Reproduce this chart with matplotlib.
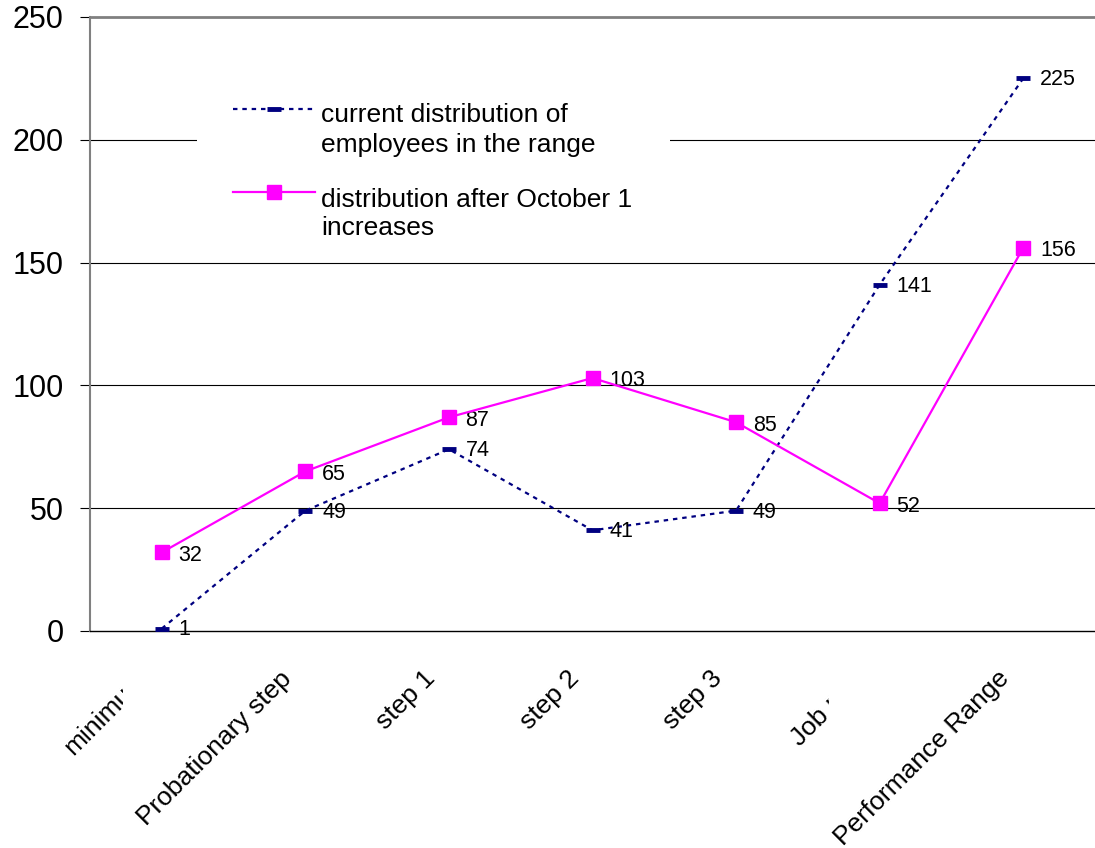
import numpy as np
import matplotlib.pyplot as plt
import matplotlib.transforms as mtransforms
from matplotlib.patches import Rectangle

plt.rcParams['font.family'] = ['Liberation Sans', 'DejaVu Sans']

categories = ["minimum", "Probationary step", "step 1", "step 2", "step 3",
              "Job rate", "Performance Range"]
current = [1, 49, 74, 41, 49, 141, 225]
after_increase = [32, 65, 87, 103, 85, 52, 156]
yticks = [0, 50, 100, 150, 200, 250]
labels = ["current distribution of\nemployees in the range",
          "distribution after October 1\nincreases"]

navy = '#000080'
magenta = '#ff00ff'

fig = plt.figure(figsize=(10.95, 8.48), dpi=100)
ax = fig.add_axes([90 / 1095, 1 - 631 / 848, 1 - 90 / 1095, (631 - 17) / 848])

x = np.arange(len(categories))
cur_style = dict(color=navy, linestyle=(0, (2, 2.2)), linewidth=1.6,
                 marker='_', markersize=10, markeredgewidth=3.5)
aft_style = dict(color=magenta, linewidth=1.6, marker='s', markersize=10.5)
ax.plot(x, current, zorder=3, **cur_style)
ax.plot(x, after_increase, zorder=4, **aft_style)

for xi, v in zip(x, current):
    ax.annotate(str(v), (xi, v), xytext=(12, -1), textcoords='offset points',
                ha='left', va='center', fontsize=15.5)
for xi, v in zip(x, after_increase):
    ax.annotate(str(v), (xi, v), xytext=(12, -2), textcoords='offset points',
                ha='left', va='center', fontsize=15.5)

ax.set_xlim(-0.5, 6.5)
ax.set_ylim(0, 250)
ax.set_yticks(yticks)
ax.tick_params(axis='y', labelsize=22, length=7, direction='out', pad=12)
ax.set_xticks(x)
ax.set_xticklabels(categories, rotation=45, ha='right', rotation_mode='anchor',
                   fontsize=19)
ax.tick_params(axis='x', length=0, pad=25.5)

for yv in yticks[1:-1]:
    ax.axhline(yv, color='black', linewidth=0.8, zorder=1)
ax.spines['top'].set_color('#808080')
ax.spines['top'].set_linewidth(2)
ax.spines['left'].set_color('#808080')
ax.spines['left'].set_linewidth(1.5)
ax.spines['right'].set_visible(False)
ax.spines['bottom'].set_linewidth(1)

# shift category names left, and cut off the two that are truncated
shift = mtransforms.ScaledTranslation(-26 / 100, 0, fig.dpi_scale_trans)
clips = {0: 123, 5: 829}
for i, lbl in enumerate(ax.get_xticklabels()):
    lbl.set_transform(lbl.get_transform() + shift)
    if i in clips:
        r = Rectangle((0, 0), clips[i] / 1095, 1, transform=fig.transFigure)
        lbl.set_clip_on(True)
        lbl.set_clip_path(r)


# legend drawn by hand in axes fraction coordinates
def fx(px):
    return (px - 90) / 1005


def fy(py):
    return (631 - py) / 614


ax.add_patch(Rectangle((fx(197), fy(248)), fx(670) - fx(197), fy(92) - fy(248),
                       transform=ax.transAxes, facecolor='white',
                       edgecolor='none', zorder=5))
handle_y = [109, 192]
text_y = [130, 214]
spacing = [1.3, 1.22]
for style, lab, hy, ty, ls in zip([cur_style, aft_style], labels, handle_y,
                                  text_y, spacing):
    line_style = {k: v for k, v in style.items() if not k.startswith('marker')}
    ax.plot([fx(233), fx(315)], [fy(hy), fy(hy)], transform=ax.transAxes,
            zorder=6, clip_on=False, **line_style)
    ax.plot([fx(274)], [fy(hy)], transform=ax.transAxes, zorder=7,
            clip_on=False, linestyle='none', color=style['color'],
            marker=style['marker'], markersize=style['markersize'],
            markeredgewidth=style.get('markeredgewidth', 1))
    ax.text(fx(321), fy(ty), lab, transform=ax.transAxes, fontsize=19,
            ha='left', va='center', linespacing=ls, zorder=7)

fig.savefig('out.png', dpi=100)
